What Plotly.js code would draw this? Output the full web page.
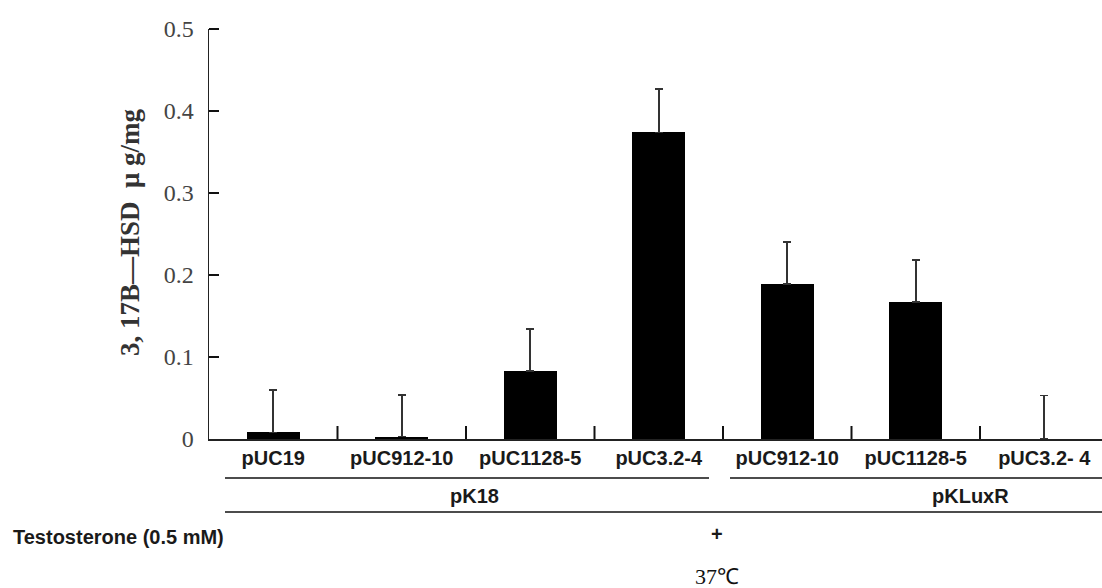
<!DOCTYPE html>
<html>
<head>
<meta charset="utf-8">
<script src="https://cdn.plot.ly/plotly-3.0.1.min.js"></script>
<style>
html,body{margin:0;padding:0;background:#fff;}
#chart{width:1102px;height:588px;}
</style>
</head>
<body>
<div id="chart"></div>
<script>
// ---- data ----
const categories = ["pUC19", "pUC912-10", "pUC1128-5", "pUC3.2-4", "pUC912-10", "pUC1128-5", "pUC3.2- 4"];
const values = [0.008, 0.003, 0.083, 0.374, 0.189, 0.167, 0.0];
const errorsUp = [0.052, 0.051, 0.051, 0.053, 0.051, 0.051, 0.053];
const yTickVals = [0, 0.1, 0.2, 0.3, 0.4, 0.5];
const yTickText = ["0", "0.1", "0.2", "0.3", "0.4", "0.5"];
const groupLabels = ["pK18", "pKLuxR"];
const conditionLabel = "Testosterone (0.5 mM)";
const conditionSign = "+";
const temperatureLabel = "37℃";
const yTitle = "3, 17B\u2014HSD\u00a0\u00a0\u03bc\u00a0g/mg";

// ---- layout geometry (pixels) ----
const W = 1102, H = 588;
const L = 209, R = 0, T = 29, B = 149;
const plotW = W - L - R, plotH = H - T - B;
const px = x => (x - L) / plotW;          // pixel x -> paper x
const py = y => (T + plotH - y) / plotH;  // pixel y -> paper y
const yRange = [0, 0.5];
const catWidthPx = 128.5;
const xRange = [-0.5, -0.5 + plotW / catWidthPx];

const xIdx = categories.map((_, i) => i);

const trace = {
  type: "bar",
  x: xIdx,
  y: values,
  width: 0.41,
  marker: {color: "#000000", line: {width: 0}},
  error_y: {
    type: "data",
    symmetric: false,
    array: errorsUp,
    arrayminus: values.map(() => 0),
    color: "#333333",
    thickness: 1.6,
    width: 4
  },
  hoverinfo: "none"
};

const labelFont = {family: "Liberation Sans, Arial, sans-serif", size: 20, color: "#1a1a1a"};

// inside tick marks (axis decoration) at category boundaries and y tick values
const toPaperX = v => (v - xRange[0]) / (xRange[1] - xRange[0]);
const toPaperY = v => (v - yRange[0]) / (yRange[1] - yRange[0]);
const tickShapes = [];
xIdx.forEach(i => {
  const xp = toPaperX(i + 0.5);
  if (xp > 1) return;
  tickShapes.push({type: "line", xref: "paper", yref: "paper", layer: "above",
    x0: xp, x1: xp, y0: 0, y1: 13 / plotH, line: {color: "#111", width: 2}});
});
yTickVals.forEach(v => {
  if (v === 0) return;
  const yp = toPaperY(v);
  tickShapes.push({type: "line", xref: "paper", yref: "paper", layer: "above",
    x0: 0, x1: 10 / plotW, y0: yp, y1: yp, line: {color: "#111", width: 2}});
});

const layout = {
  width: W, height: H,
  margin: {l: L, r: R, t: T, b: B, pad: 0},
  paper_bgcolor: "#ffffff",
  plot_bgcolor: "#ffffff",
  showlegend: false,
  bargap: 0,
  xaxis: {
    range: xRange,
    tickvals: xIdx,
    ticktext: categories.map(c => "<b>" + c + "</b>"),
    ticks: "",
    tickfont: labelFont,
    ticklabelstandoff: 0,
    showline: true,
    linecolor: "#222",
    linewidth: 1.5,
    showgrid: false,
    zeroline: false,
    fixedrange: true
  },
  yaxis: {
    range: yRange,
    tickvals: yTickVals,
    ticktext: yTickText,
    ticks: "",
    tickfont: {family: "Liberation Serif, Times New Roman, serif", size: 24, color: "#444"},
    ticklabelstandoff: 9,
    showline: true,
    linecolor: "#222",
    linewidth: 1.5,
    showgrid: false,
    zeroline: false,
    fixedrange: true
  },
  shapes: tickShapes.concat([
    {type: "line", xref: "paper", yref: "paper", x0: px(225), x1: px(709), y0: py(478), y1: py(478), line: {color: "#111", width: 1.5}},
    {type: "line", xref: "paper", yref: "paper", x0: px(730), x1: px(1102), y0: py(478), y1: py(478), line: {color: "#111", width: 1.5}},
    {type: "line", xref: "paper", yref: "paper", x0: px(225), x1: px(1102), y0: py(512), y1: py(512), line: {color: "#111", width: 1.5}}
  ]),
  annotations: [
    {text: "<b>" + yTitle + "</b>", xref: "paper", yref: "paper", x: px(130), y: py(232), textangle: -90,
     showarrow: false, xanchor: "center", yanchor: "middle",
     font: {family: "Liberation Serif, Times New Roman, serif", size: 27, color: "#333"}},
    {text: "<b>" + groupLabels[0] + "</b>", xref: "paper", yref: "paper", x: px(474), y: py(496),
     showarrow: false, xanchor: "center", yanchor: "middle", font: labelFont},
    {text: "<b>" + groupLabels[1] + "</b>", xref: "paper", yref: "paper", x: px(970), y: py(496),
     showarrow: false, xanchor: "center", yanchor: "middle", font: labelFont},
    {text: "<b>" + conditionLabel + "</b>", xref: "paper", yref: "paper", x: px(11), y: py(537),
     showarrow: false, xanchor: "left", yanchor: "middle", font: labelFont},
    {text: "<b>" + conditionSign + "</b>", xref: "paper", yref: "paper", x: px(717), y: py(534),
     showarrow: false, xanchor: "center", yanchor: "middle", font: labelFont},
    {text: temperatureLabel, xref: "paper", yref: "paper", x: px(717), y: py(576),
     showarrow: false, xanchor: "center", yanchor: "middle", font: {family: "Liberation Serif, Times New Roman, serif", size: 22, color: "#111"}}
  ]
};

Plotly.newPlot("chart", [trace], layout, {displayModeBar: false, staticPlot: true});
</script>
</body>
</html>
